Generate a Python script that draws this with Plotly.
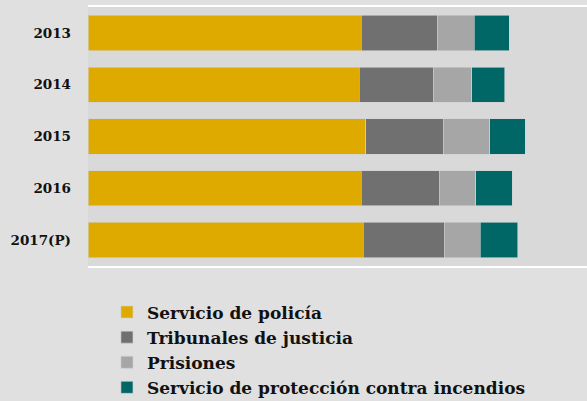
import plotly.graph_objects as go

years = ["2013", "2014", "2015", "2016", "2017(P)"]

policia = [54.8, 54.4, 55.7, 54.8, 55.2]
tribunales = [15.2, 14.9, 15.6, 15.6, 16.2]
prisiones = [7.4, 7.6, 9.2, 7.3, 7.2]
incendios = [7.0, 6.6, 7.1, 7.3, 7.5]

series = [
    ("Servicio de policía", policia, "#DFAA00"),
    ("Tribunales de justicia", tribunales, "#707070"),
    ("Prisiones", prisiones, "#A6A6A6"),
    ("Servicio de protección contra incendios", incendios, "#006766"),
]

font_family = "DejaVu Serif"

fig = go.Figure()

for name, values, color in series:
    fig.add_trace(
        go.Bar(
            y=years,
            x=values,
            name=name,
            orientation="h",
            marker=dict(color=color, line=dict(color="#d0d0d0", width=0.6)),
        )
    )

fig.update_layout(
    width=587,
    height=401,
    barmode="stack",
    bargap=0.32,
    paper_bgcolor="#E0E0E0",
    plot_bgcolor="#D9D9D9",
    margin=dict(l=88, r=0, t=7, b=135, autoexpand=False),
    font=dict(family=font_family, color="#111111"),
    showlegend=True,
    legend=dict(
        orientation="v",
        traceorder="normal",
        x=0.038,
        y=-0.11,
        xanchor="left",
        yanchor="top",
        bgcolor="rgba(0,0,0,0)",
        font=dict(family=font_family, size=17, weight="bold", color="#111111"),
        itemwidth=30,
        tracegroupgap=0,
    ),
)

fig.update_xaxes(
    range=[0, 100],
    showgrid=False,
    zeroline=False,
    showticklabels=False,
    showline=True,
    linecolor="#FFFFFF",
    linewidth=1.5,
    mirror=True,
)

fig.update_yaxes(
    autorange="reversed",
    showgrid=False,
    zeroline=False,
    ticks="",
    ticklabelstandoff=16,
    tickfont=dict(family=font_family, size=13.5, weight="bold", color="#111111"),
)

fig.write_html(
    "out.html",
    config={"displayModeBar": False},
    post_script="document.body.style.margin='0px';document.body.style.overflow='hidden';",
)
